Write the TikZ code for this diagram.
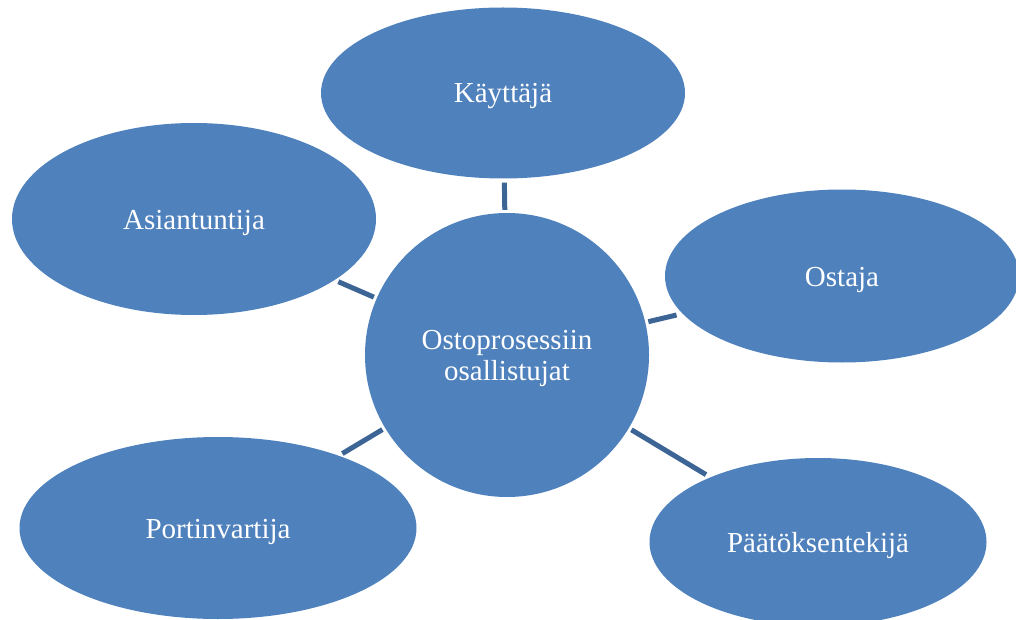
\documentclass[tikz,border=0pt]{standalone}
\usepackage{fontspec}
\setmainfont{Liberation Serif}
\usetikzlibrary{shapes.geometric,backgrounds}
\definecolor{blobfill}{HTML}{4F81BD}
\definecolor{linkcol}{HTML}{3C6595}
\newcommand{\lowtxt}[1]{\raisebox{-3.5pt}[\height][\depth]{#1}}
\tikzset{
  blob/.style={ellipse, fill=blobfill, inner sep=0pt, text=white,
    font=\fontsize{29}{32}\selectfont, align=center},
  link/.style={draw=linkcol, line width=5pt}
}
\begin{document}
\begin{tikzpicture}[x=1pt,y=1pt]
\useasboundingbox (0,0) rectangle (1016,-620);
\clip (0,0) rectangle (1016,-620);
\node[blob, minimum width=284pt, minimum height=284pt] (c) at (507,-355) {\lowtxt{\begin{tabular}{@{}c@{}}Ostoprosessiin\\[-1pt]osallistujat\end{tabular}}};
\node[blob, minimum width=364pt, minimum height=171pt] (k) at (503,-93) {\lowtxt{Käyttäjä}};
\node[blob, minimum width=364pt, minimum height=192pt] (a) at (194,-219) {\lowtxt{Asiantuntija}};
\node[blob, minimum width=354pt, minimum height=173pt] (o) at (842,-276) {\lowtxt{Ostaja}};
\node[blob, minimum width=397pt, minimum height=182pt] (p) at (218,-528) {\lowtxt{Portinvartija}};
\node[blob, minimum width=337pt, minimum height=168pt] (d) at (818,-542) {\lowtxt{Päätöksentekijä}};
\begin{pgfonlayer}{background}
\draw[link, shorten <=4pt, shorten >=3pt] (k) -- (c);
\draw[link, shorten <=4pt, shorten >=3pt] (a) -- (c);
\draw[link, shorten <=6pt, shorten >=3pt] (o) -- (c);
\draw[link, shorten <=4pt, shorten >=3pt] (p) -- (c);
\draw[link, shorten <=5pt, shorten >=3pt] (d) -- (c);
\end{pgfonlayer}
\end{tikzpicture}
\end{document}
